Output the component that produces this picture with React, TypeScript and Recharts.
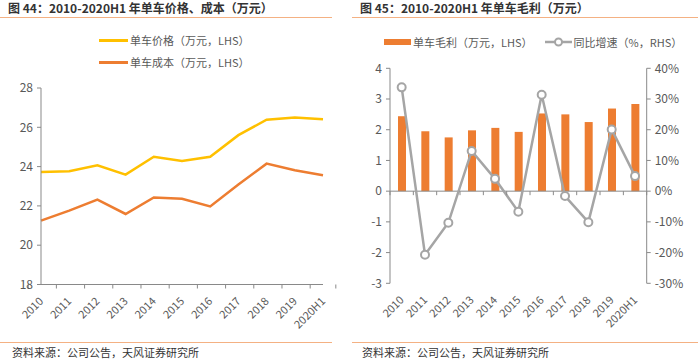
import React from 'react';
import { LineChart, Line, XAxis, YAxis, ComposedChart, Bar, ReferenceLine } from 'recharts';

const categories = ['2010', '2011', '2012', '2013', '2014', '2015', '2016', '2017', '2018', '2019', '2020H1'];
const unitPrice = [23.73, 23.76, 24.07, 23.59, 24.5, 24.29, 24.5, 25.6, 26.39, 26.5, 26.41];
const unitCost = [21.25, 21.76, 22.32, 21.59, 22.43, 22.36, 21.97, 23.09, 24.15, 23.81, 23.56];
const unitProfit = [2.44, 1.95, 1.75, 1.98, 2.06, 1.93, 2.53, 2.5, 2.25, 2.69, 2.84];
const profitYoY = [0.338, -0.207, -0.103, 0.131, 0.04, -0.067, 0.314, -0.016, -0.101, 0.201, 0.049];

const leftTicks = [18, 20, 22, 24, 26, 28];
const rightLeftTicks = [-3, -2, -1, 0, 1, 2, 3, 4];
const rightRightTicks = [-0.3, -0.2, -0.1, 0, 0.1, 0.2, 0.3, 0.4];

const leftData = categories.map((c, i) => ({ name: c, price: unitPrice[i], cost: unitCost[i] }));
const rightData = categories.map((c, i) => ({ name: c, profit: unitProfit[i], yoy: profitYoY[i] }));

const FONT = '"Noto Sans CJK SC", "Noto Sans", sans-serif';
const AXIS = '#898989';
const TEXT = '#595959';
const YELLOW = '#FFC000';
const ORANGE = '#ED7D31';
const GRAY = '#A5A5A5';
const RULE = '#F4B183';

// layout
const L_W = 340, L_H = 363, L_TOP = 88, L_LEFT = 41, L_RIGHT = 17, L_BOTTOM = 78.5;
const L_BAND = (L_W - L_LEFT - L_RIGHT) / categories.length;
const R_W = 350, R_H = 363, R_TOP = 68.3, R_LEFTW = 40, R_RIGHTW = 53.3, R_BOTTOM = 79.7;
const R_BAND = (R_W - R_LEFTW - R_RIGHTW) / categories.length;
const R_PLOT_H = R_H - R_TOP - R_BOTTOM;
const R_ZERO_OFFSET = R_PLOT_H * (0 - -3) / (4 - -3);

const makeTick = (band: number, lineOffset: number) => (props: any) => {
  const { x, y, payload, index } = props;
  const last = index === categories.length - 1;
  const ax = x + 3;
  const ay = y + 17.5;
  const ly = y - lineOffset;
  return (
    <g>
      <line x1={x - band / 2} x2={x - band / 2} y1={ly} y2={ly + 4} stroke={AXIS} strokeWidth={1} />
      {last && <line x1={x + band / 2} x2={x + band / 2} y1={ly} y2={ly + 4} stroke={AXIS} strokeWidth={1} />}
      <text x={ax} y={ay} transform={`rotate(-45 ${ax} ${ay})`} textAnchor="end" fill={TEXT} fontSize={11} fontFamily={FONT}>
        {payload.value}
      </text>
    </g>
  );
};

const LeftTick = makeTick(L_BAND, 0);
const RightTick = makeTick(R_BAND, R_ZERO_OFFSET);

const pct = (v: number) => `${Math.round(v * 100)}%`;

const Title = ({ x, text }: { x: number; text: string }) => (
  <div style={{ position: 'absolute', left: x, top: 0, fontSize: 12, fontWeight: 700, color: '#333', fontFamily: FONT, whiteSpace: 'nowrap', lineHeight: '16px' }}>{text}</div>
);

const Rule = ({ x, w, y }: { x: number; w: number; y: number }) => (
  <div style={{ position: 'absolute', left: x, top: y, width: w, height: 1, background: RULE }} />
);

const Source = ({ x }: { x: number }) => (
  <div style={{ position: 'absolute', left: x, top: 345, fontSize: 11, color: '#333', fontFamily: FONT, whiteSpace: 'nowrap', lineHeight: '14px' }}>资料来源：公司公告，天风证券研究所</div>
);

const legendText: React.CSSProperties = { fontSize: 11, color: TEXT, fontFamily: FONT, whiteSpace: 'nowrap', lineHeight: '14px' };

export default function App() {
  return (
    <div style={{ position: 'absolute', left: 0, top: 0, width: 700, height: 363, background: '#fff', overflow: 'hidden' }}>
      <Title x={8} text="图 44：2010-2020H1 年单车价格、成本（万元）" />
      <Title x={360} text="图 45：2010-2020H1 年单车毛利（万元）" />
      <Rule x={0} w={332} y={17} />
      <Rule x={352} w={346} y={17} />
      <Rule x={0} w={332} y={342} />
      <Rule x={352} w={346} y={342} />
      <Source x={12} />
      <Source x={362} />

      {/* left legend */}
      <div style={{ position: 'absolute', left: 99, top: 33, display: 'flex', alignItems: 'center' }}>
        <div style={{ width: 29, height: 3, background: YELLOW, marginRight: 2 }} />
        <span style={legendText}>单车价格（万元，LHS）</span>
      </div>
      <div style={{ position: 'absolute', left: 99, top: 55, display: 'flex', alignItems: 'center' }}>
        <div style={{ width: 29, height: 3, background: ORANGE, marginRight: 2 }} />
        <span style={legendText}>单车成本（万元，LHS）</span>
      </div>

      {/* right legend */}
      <div style={{ position: 'absolute', left: 384, top: 35, display: 'flex', alignItems: 'center' }}>
        <div style={{ width: 27, height: 6, background: ORANGE, marginRight: 2 }} />
        <span style={legendText}>单车毛利（万元，LHS）</span>
        <svg width={27} height={12} style={{ marginLeft: 12, marginRight: 2 }}>
          <line x1={0} x2={27} y1={6} y2={6} stroke={GRAY} strokeWidth={2.5} />
          <circle cx={13.5} cy={6} r={3.5} fill="#fff" stroke={GRAY} strokeWidth={2} />
        </svg>
        <span style={legendText}>同比增速（%，RHS）</span>
      </div>

      <div style={{ position: 'absolute', left: 0, top: 0 }}>
        <LineChart width={L_W} height={L_H} data={leftData} margin={{ top: L_TOP, right: L_RIGHT, left: 0, bottom: L_BOTTOM - 40 }}>
          <XAxis dataKey="name" height={40} interval={0} tickLine={false} tickSize={0} tickMargin={0} axisLine={{ stroke: AXIS }} tick={LeftTick} />
          <YAxis width={L_LEFT} domain={[18, 28]} ticks={leftTicks} interval={0} tickSize={4} tickMargin={4} axisLine={{ stroke: AXIS }} tickLine={{ stroke: AXIS }} tick={{ fill: TEXT, fontSize: 12, fontFamily: FONT }} />
          <Line dataKey="price" stroke={YELLOW} strokeWidth={2.5} dot={false} isAnimationActive={false} />
          <Line dataKey="cost" stroke={ORANGE} strokeWidth={2.5} dot={false} isAnimationActive={false} />
        </LineChart>
      </div>

      <div style={{ position: 'absolute', left: 350, top: 0 }}>
        <ComposedChart width={R_W} height={R_H} data={rightData} margin={{ top: R_TOP, right: 0, left: 0, bottom: R_BOTTOM - 40 }}>
          <XAxis dataKey="name" height={40} interval={0} tickLine={false} tickSize={0} tickMargin={0} axisLine={false} tick={RightTick} />
          <YAxis yAxisId="left" width={R_LEFTW} domain={[-3, 4]} ticks={rightLeftTicks} interval={0} tickSize={4} tickMargin={4} axisLine={{ stroke: AXIS }} tickLine={{ stroke: AXIS }} tick={{ fill: TEXT, fontSize: 12, fontFamily: FONT }} />
          <YAxis yAxisId="right" orientation="right" width={R_RIGHTW} domain={[-0.3, 0.4]} ticks={rightRightTicks} interval={0} tickFormatter={pct} tickSize={4} tickMargin={4} axisLine={{ stroke: AXIS }} tickLine={{ stroke: AXIS }} tick={{ fill: TEXT, fontSize: 12, fontFamily: FONT }} />
          <ReferenceLine yAxisId="left" y={0} stroke={AXIS} strokeWidth={1} />
          <Bar yAxisId="left" dataKey="profit" fill={ORANGE} barSize={8} isAnimationActive={false} />
          <Line yAxisId="right" dataKey="yoy" stroke={GRAY} strokeWidth={2.5} dot={{ r: 4, fill: '#fff', stroke: GRAY, strokeWidth: 2 }} isAnimationActive={false} />
        </ComposedChart>
      </div>
    </div>
  );
}
